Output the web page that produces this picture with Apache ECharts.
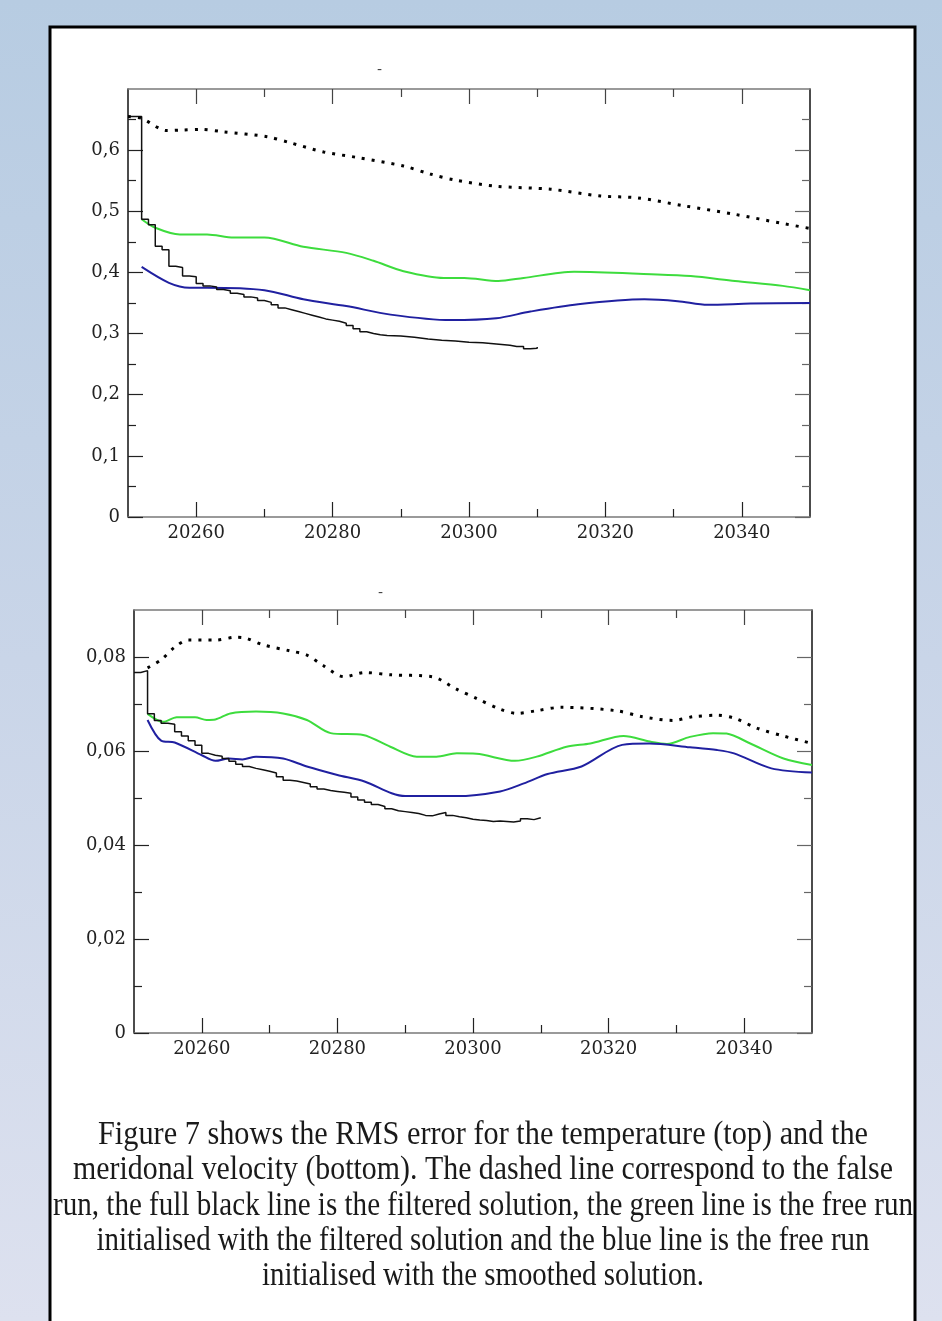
<!DOCTYPE html>
<html><head><meta charset="utf-8">
<script src="https://cdn.jsdelivr.net/npm/echarts@6/dist/echarts.min.js"></script>
<style>html,body{margin:0;padding:0;background:#fff;}#c{width:942px;height:1321px;}</style>
</head><body><div id="c"></div>
<script>
// ---------------- data ----------------
const xMajorTicks = [20260, 20280, 20300, 20320, 20340];
const xMinorTicks = [20270, 20290, 20310, 20330];
const tempYMajor = [0, 0.1, 0.2, 0.3, 0.4, 0.5, 0.6];
const tempYMinor = [0.05, 0.15, 0.25, 0.35, 0.45, 0.55, 0.65];
const velYMajor = [0, 0.02, 0.04, 0.06, 0.08];
const velYMinor = [0.01, 0.03, 0.05, 0.07];

// Temperature (top)
const tempFalseRun = [[20250,0.655],[20252,0.652],[20255.7,0.632],[20258,0.633],[20260.6,0.634],[20264,0.630],[20270.4,0.622],[20273.8,0.612],[20278.7,0.597],[20283.6,0.588],[20290.4,0.574],[20294.3,0.561],[20298,0.551],[20304,0.541],[20312,0.536],[20319.3,0.525],[20324.7,0.522],[20331.5,0.509],[20339,0.495],[20346,0.480],[20350,0.472]];
const tempFiltered = [[20250,0.655],[20252,0.487],[20253,0.478],[20254,0.443],[20255,0.437],[20256,0.410],[20257,0.408],[20258,0.394],[20259,0.393],[20260,0.382],[20261,0.378],[20262,0.376],[20263,0.372],[20264,0.370],[20265,0.366],[20266,0.364],[20267,0.360],[20268,0.358],[20269,0.354],[20270,0.351],[20271,0.347],[20272,0.342],[20273,0.339],[20274,0.336],[20275,0.333],[20276,0.330],[20277,0.327],[20278,0.324],[20279,0.322],[20280,0.320],[20281,0.317],[20282,0.313],[20283,0.308],[20284,0.303],[20285,0.300],[20286,0.298],[20287,0.297],[20288,0.296],[20290,0.294],[20292,0.291],[20294,0.289],[20296,0.288],[20298,0.286],[20300,0.285],[20302,0.283],[20304,0.281],[20306,0.279],[20307,0.279],[20308,0.275],[20309,0.276],[20310,0.278]];
const tempFreeFiltered = [[20252,0.487],[20254,0.473],[20257.6,0.462],[20261.6,0.462],[20265.5,0.457],[20270,0.457],[20275.7,0.442],[20282,0.432],[20286,0.419],[20290.4,0.402],[20296.3,0.391],[20299.3,0.391],[20304.3,0.386],[20308,0.391],[20315.4,0.401],[20326.7,0.397],[20332.5,0.394],[20339,0.386],[20346,0.378],[20350,0.371]];
const tempFreeSmoothed = [[20252,0.409],[20256,0.383],[20259,0.375],[20261.6,0.375],[20270,0.371],[20275.7,0.356],[20282,0.345],[20288.5,0.331],[20297.3,0.322],[20304,0.325],[20309,0.336],[20316,0.348],[20325.7,0.356],[20330.6,0.353],[20335,0.347],[20341.3,0.349],[20350,0.350]];

// Meridional velocity (bottom)
const velFalseRun = [[20252,0.0777],[20254,0.0794],[20256,0.0821],[20258,0.0836],[20262,0.0836],[20265,0.0842],[20266.5,0.0840],[20269,0.0826],[20273,0.0813],[20275.5,0.0804],[20278,0.0781],[20281,0.0758],[20284,0.0767],[20288,0.0762],[20294,0.0758],[20297.5,0.0732],[20300.5,0.0712],[20304,0.0689],[20306.5,0.0680],[20309.5,0.0686],[20313,0.0693],[20321,0.0686],[20325,0.0673],[20329.5,0.0665],[20332.5,0.0673],[20336,0.0676],[20338.5,0.0670],[20342,0.0648],[20346,0.0631],[20350,0.0616]];
const velFiltered = [[20250,0.0767],[20251,0.0771],[20252,0.0679],[20253,0.0665],[20254,0.0659],[20255,0.0657],[20256,0.0641],[20257,0.0632],[20258,0.0622],[20259,0.0612],[20260,0.0595],[20261,0.0591],[20262,0.0589],[20263,0.0584],[20264,0.0578],[20265,0.0572],[20266,0.0567],[20267,0.0563],[20268,0.0560],[20269,0.0557],[20270,0.0553],[20271,0.0545],[20272,0.0538],[20273,0.0536],[20274,0.0533],[20275,0.0530],[20276,0.0524],[20277,0.0519],[20278,0.0516],[20279,0.0514],[20280,0.0512],[20281,0.0510],[20282,0.0502],[20283,0.0496],[20284,0.0491],[20285,0.0486],[20286,0.0482],[20287,0.0477],[20288,0.0473],[20289,0.0471],[20290,0.0469],[20291,0.0467],[20292,0.0463],[20293,0.0462],[20294,0.0466],[20295,0.0469],[20296,0.0463],[20297,0.0460],[20298,0.0458],[20299,0.0455],[20300,0.0453],[20301,0.0452],[20302,0.0450],[20303,0.0451],[20304,0.0450],[20305,0.0449],[20306,0.0451],[20307,0.0456],[20308,0.0454],[20309,0.0458],[20310,0.0459]];
const velFreeFiltered = [[20252,0.0679],[20254.3,0.0662],[20256.3,0.0672],[20259,0.0672],[20260.7,0.0666],[20262,0.0667],[20264.2,0.0680],[20268,0.0684],[20272,0.0680],[20275.5,0.0666],[20279,0.0638],[20283.8,0.0634],[20287.8,0.0609],[20291.7,0.0588],[20294.6,0.0588],[20297.6,0.0595],[20300.5,0.0594],[20306.2,0.0579],[20309.4,0.0588],[20313.8,0.0609],[20317.3,0.0616],[20322.2,0.0632],[20326.1,0.0620],[20328.6,0.0615],[20332,0.0630],[20335.4,0.0638],[20337.4,0.0637],[20340.9,0.0616],[20345.8,0.0584],[20350,0.0570]];
const velFreeSmoothed = [[20252,0.0666],[20254,0.0622],[20256,0.0618],[20260,0.0591],[20262,0.0579],[20264,0.0584],[20266,0.0582],[20268,0.0588],[20272,0.0584],[20275.5,0.0567],[20280,0.0549],[20284,0.0535],[20288,0.0510],[20290,0.0504],[20297.5,0.0504],[20304,0.0514],[20307.5,0.0531],[20311,0.0551],[20316,0.0567],[20322,0.0613],[20326,0.0616],[20332,0.0608],[20336,0.0602],[20338.5,0.0595],[20344,0.0563],[20350,0.0554]];

const captionLines = [
  "Figure 7 shows the RMS error for the temperature (top) and the",
  "meridonal velocity (bottom). The dashed line correspond to the false",
  "run, the full black line is the filtered solution, the green line is the free run",
  "initialised with the filtered solution and the blue line is the free run",
  "initialised with the smoothed solution."
];

// ---------------- layout ----------------
const X_MIN = 20250, X_MAX = 20350;
const grids = [
  { left: 128, top: 89, width: 682, height: 428, yMax: 0.7, yMajor: tempYMajor, yMinor: tempYMinor },
  { left: 134, top: 610, width: 678, height: 423, yMax: 0.09, yMajor: velYMajor, yMinor: velYMinor }
];
const labelFont = { fontFamily: 'DejaVu Serif', fontSize: 18, color: '#222' };
const fmt = v => v === 0 ? '0' : Number(v.toFixed(3)).toString().replace('.', ',');

const xAxes = [], yAxes = [];
grids.forEach((g, gi) => {
  const xa = (pos, vals, len, showLine, labels, color) => ({
    type: 'value', gridIndex: gi, position: pos, min: X_MIN, max: X_MAX,
    splitLine: { show: false },
    axisLine: { show: showLine, onZero: false, lineStyle: { color: '#7a7a7a', width: 1.5 } },
    axisTick: { show: true, inside: true, length: len, customValues: vals, lineStyle: { color: color, width: 1.2 } },
    axisLabel: labels ? Object.assign({ show: true, margin: 7, customValues: vals, formatter: v => String(v) }, labelFont) : { show: false }
  });
  xAxes.push(xa('bottom', xMajorTicks, 15, true, true, '#222'));
  xAxes.push(xa('bottom', xMinorTicks, 8, false, false, '#222'));
  xAxes.push(xa('top', xMajorTicks, 15, true, false, '#444'));
  xAxes.push(xa('top', xMinorTicks, 8, false, false, '#444'));
  const ya = (pos, vals, len, showLine, labels, color) => ({
    type: 'value', gridIndex: gi, position: pos, min: 0, max: g.yMax,
    splitLine: { show: false },
    axisLine: { show: showLine, onZero: false, lineStyle: { color: '#111', width: 1.5 } },
    axisTick: { show: true, inside: true, length: len, customValues: vals, lineStyle: { color: color, width: 1.2 } },
    axisLabel: labels ? Object.assign({ show: true, margin: 8, customValues: vals, formatter: fmt }, labelFont) : { show: false }
  });
  yAxes.push(ya('left', g.yMajor, 15, true, true, '#222'));
  yAxes.push(ya('left', g.yMinor, 8, false, false, '#222'));
  yAxes.push(ya('right', g.yMajor, 15, true, false, '#666'));
  yAxes.push(ya('right', g.yMinor, 8, false, false, '#666'));
});

function mkSeries(gi, data, kind) {
  const s = { type: 'line', xAxisIndex: gi * 4, yAxisIndex: gi * 4, data: data, symbol: 'none', silent: true };
  if (kind === 'false') { s.smooth = 0.3; s.lineStyle = { color: '#000', width: 3, type: [3, 7], cap: 'butt' }; s.z = 5; }
  if (kind === 'filtered') { s.step = 'end'; s.lineStyle = { color: '#111', width: 1.5 }; s.z = 4; }
  if (kind === 'green') { s.smooth = 0.3; s.lineStyle = { color: '#3ddc3d', width: 2 }; s.z = 3; }
  if (kind === 'blue') { s.smooth = 0.3; s.lineStyle = { color: '#2020a0', width: 2 }; s.z = 3; }
  return s;
}

const series = [
  mkSeries(0, tempFreeFiltered, 'green'),
  mkSeries(0, tempFreeSmoothed, 'blue'),
  mkSeries(0, tempFiltered, 'filtered'),
  mkSeries(0, tempFalseRun, 'false'),
  mkSeries(1, velFreeFiltered, 'green'),
  mkSeries(1, velFreeSmoothed, 'blue'),
  mkSeries(1, velFiltered, 'filtered'),
  mkSeries(1, velFalseRun, 'false')
];

// caption fitting (condensed serif text, per-line target widths)
const capFont = '33px "Liberation Serif"';
const capWidths = [770, 820, 860, 773, 442];
const cvs = document.createElement('canvas').getContext('2d');
cvs.font = capFont;
const captionGraphics = captionLines.map((t, i) => ({
  type: 'text', x: 483, y: 1146.7 + i * 35.1 - 11, scaleX: capWidths[i] / cvs.measureText(t).width, z: 10,
  style: { text: t, font: capFont, fill: '#1a1a1a', textAlign: 'center', textVerticalAlign: 'middle', verticalAlign: 'middle' }
}));

const chart = echarts.init(document.getElementById('c'), null, { renderer: 'canvas' });
chart.setOption({
  animation: false,
  backgroundColor: { type: 'linear', x: 0, y: 0, x2: 0, y2: 1, colorStops: [
    { offset: 0, color: '#b7cce2' }, { offset: 0.5, color: '#c9d5e8' }, { offset: 1, color: '#dde1ef' }] },
  title: [
    { text: '-', left: 372, top: 58, textStyle: { fontSize: 14, fontWeight: 'normal', color: '#444', fontFamily: 'DejaVu Sans' } },
    { text: '-', left: 373, top: 581, textStyle: { fontSize: 14, fontWeight: 'normal', color: '#444', fontFamily: 'DejaVu Sans' } }
  ],
  grid: grids.map(g => ({ left: g.left, top: g.top, width: g.width, height: g.height, containLabel: false })),
  xAxis: xAxes,
  yAxis: yAxes,
  series: series,
  graphic: [
    { type: 'rect', z: -10, shape: { x: 50, y: 27, width: 865, height: 1400 }, style: { fill: '#ffffff', stroke: '#000', lineWidth: 3 } }
  ].concat(captionGraphics)
});
</script>
</body></html>
